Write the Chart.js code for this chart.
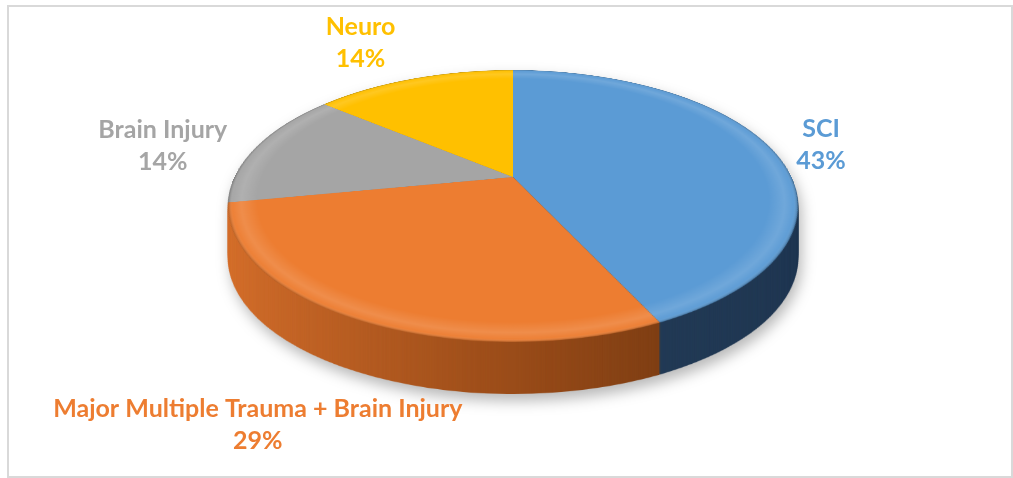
<!DOCTYPE html>
<html>
<head>
<meta charset="utf-8">
<title>Case mix</title>
<script src="https://cdn.jsdelivr.net/npm/chart.js@4.4.1/dist/chart.umd.min.js"></script>
<style>
  html, body { margin: 0; padding: 0; background: #fff; }
</style>
</head>
<body>
<canvas id="chart" width="1013" height="478"></canvas>
<script>
// Case mix by diagnosis group
// ======================

var labels = ['SCI', 'Major Multiple Trauma + Brain Injury', 'Brain Injury', 'Neuro'];
var shares = [43, 29, 14, 14];

var topColors = ['#5b9bd5', '#ed7d31', '#a5a5a5', '#ffc000'];
var sideColors = [
    ['#2e5276', '#243d58', '#203752']
    , ['#d8712d', '#9a4c19', '#5c2e0e']
    , ['#8c8c8c', '#6a6a6a', '#4f4f4f']
    , ['#c99700', '#9a7300', '#745600']
];

var TILT = -0.213;   // perspective, the far edge comes out smaller
var DEPTH = 52;      // thickness of the disc, px
var SRC = 300;       // radius of the flat bitmap the slices are painted on

// where a point (u, v) of the unit disc lands on the tilted top face
function project(box, u, v) {
    var t = TILT
        , C = (box.bottom - box.top) * (1 - t * t) / 2
        , G = (box.right - box.left) / 2 * Math.sqrt(1 - t * t)
        , w = 1 / (1 + t * v);
    return {
        x: (box.left + box.right) / 2 + G * u * w
        , y: box.top + C / (1 - t) + C * v * w
    };
}

// paint the slices flat, with the library's own arc elements
function flatPie(chart, fillFor) {
    var meta = chart.getDatasetMeta(0);
    var c = document.createElement('canvas');
    c.width = c.height = SRC * 2;
    var g = c.getContext('2d');
    meta.data.forEach(function (arc, i) {
        var k = SRC / arc.outerRadius;
        g.save();
        g.translate(SRC, SRC);
        g.scale(k, k);
        g.translate(-arc.x, -arc.y);
        var ghost = Object.create(arc);
        ghost.options = Object.assign({}, arc.options, {
            backgroundColor: fillFor ? fillFor(g, arc, i) : arc.options.backgroundColor
            , borderWidth: 0
        });
        ghost.draw(g);
        g.restore();
    });
    return c;
}

// lay the flat bitmap onto the tilted plane, one screen row at a time
function warp(ctx, src, box, dy) {
    var t = TILT
        , C = (box.bottom - box.top) * (1 - t * t) / 2
        , yc = box.top + C / (1 - t);
    function rowN(y) { return (y - yc) / (C - t * (y - yc)); }
    for (var y = Math.floor(box.top); y < Math.ceil(box.bottom); y++) {
        var n0 = Math.max(-1, rowN(y)), n1 = Math.min(1, rowN(y + 1));
        if (n1 <= n0) continue;
        var left = project(box, -1, (n0 + n1) / 2).x
            , right = project(box, 1, (n0 + n1) / 2).x;
        ctx.drawImage(src, 0, SRC + n0 * SRC, 2 * SRC, (n1 - n0) * SRC, left, y + dy, right - left, 1);
    }
}

var frame = {
    id: 'frame'
    , beforeDraw: function (chart) {
        var ctx = chart.ctx;
        ctx.save();
        ctx.strokeStyle = '#d9d9d9';
        ctx.lineWidth = 2;
        ctx.strokeRect(8, 6, chart.width - 9, chart.height - 7);
        ctx.restore();
    }
};

var tiltedPie = {
    id: 'tiltedPie'
    , beforeDatasetsDraw: function (chart) {
        var box = chart.chartArea;

        var side = flatPie(chart, function (g, arc, i) {
            var grad = g.createLinearGradient(arc.x - arc.outerRadius, 0, arc.x + arc.outerRadius, 0);
            grad.addColorStop(0, sideColors[i][0]);
            grad.addColorStop(0.5, sideColors[i][1]);
            grad.addColorStop(1, sideColors[i][2]);
            return grad;
        });

        var top = flatPie(chart);
        // soft bevel round the rim
        var tg = top.getContext('2d');
        var rim = tg.createRadialGradient(SRC, SRC, 0, SRC, SRC, SRC);
        rim.addColorStop(0.9, 'rgba(255,255,255,0)');
        rim.addColorStop(0.955, 'rgba(255,255,255,0.13)');
        rim.addColorStop(0.985, 'rgba(255,255,255,0.03)');
        rim.addColorStop(1, 'rgba(0,0,0,0.25)');
        tg.globalCompositeOperation = 'source-atop';
        tg.fillStyle = rim;
        tg.fillRect(0, 0, SRC * 2, SRC * 2);

        var layer = document.createElement('canvas');
        layer.width = chart.width;
        layer.height = chart.height;
        var lc = layer.getContext('2d');
        for (var d = DEPTH; d >= 1; d--) warp(lc, side, box, d);
        warp(lc, top, box, 0);

        var ctx = chart.ctx;
        ctx.save();
        ctx.shadowColor = 'rgba(0,0,0,0.28)';
        ctx.shadowBlur = 14;
        ctx.shadowOffsetX = 3;
        ctx.shadowOffsetY = 7;
        ctx.drawImage(layer, 0, 0);
        ctx.restore();
        return false;
    }
};

// outside labels: name and share, nudged the way the original sits
var labelNudge = [[-13, 1], [-48, 58], [-34, 7], [-33, -16]];

var sliceLabels = {
    id: 'sliceLabels'
    , afterDraw: function (chart) {
        var ctx = chart.ctx
            , box = chart.chartArea
            , meta = chart.getDatasetMeta(0)
            , total = shares.reduce(function (a, b) { return a + b; }, 0);
        ctx.save();
        ctx.font = 'bold 25px Lato';
        ctx.textAlign = 'center';
        ctx.textBaseline = 'middle';
        meta.data.forEach(function (arc, i) {
            var mid = (arc.startAngle + arc.endAngle) / 2
                , p = project(box, 1.25 * Math.cos(mid), 1.25 * Math.sin(mid))
                , x = p.x + labelNudge[i][0]
                , y = p.y + labelNudge[i][1];
            ctx.fillStyle = topColors[i];
            ctx.fillText(labels[i], x, y - 16);
            ctx.fillText(Math.round(shares[i] / total * 100) + '%', x, y + 16);
        });
        ctx.restore();
    }
};

new Chart(document.getElementById('chart'), {
    type: 'pie'
    , data: {
        labels: labels
        , datasets: [{ data: shares, backgroundColor: topColors, borderWidth: 0 }]
    }
    , options: {
        responsive: false
        , animation: false
        , events: []
        , layout: { padding: { left: 228, right: 215, top: 70, bottom: 136 } }
        , plugins: { legend: { display: false }, tooltip: { enabled: false } }
    }
    , plugins: [frame, tiltedPie, sliceLabels]
});
</script>
</body>
</html>
